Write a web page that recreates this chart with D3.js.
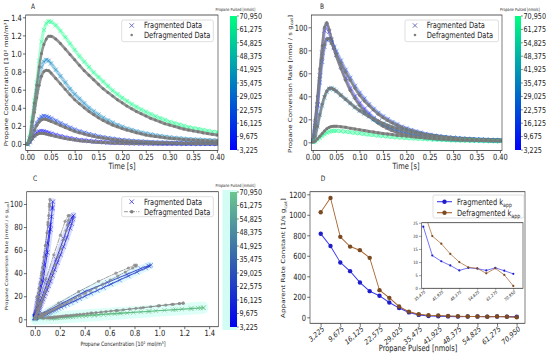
<!DOCTYPE html>
<html>
<head>
<meta charset="utf-8">
<script src="https://cdn.jsdelivr.net/npm/d3@7"></script>
<style>
html, body { margin: 0; padding: 0; background: #fff; }
svg { display: block; }
</style>
</head>
<body>
<div id="chart"></div>
<script>
// ---- data ----
const time = [0, 0.005, 0.01, 0.015, 0.02, 0.025, 0.03, 0.035, 0.04, 0.045, 0.05,
    0.06, 0.07, 0.08, 0.09, 0.10, 0.11, 0.12, 0.13, 0.14, 0.15, 0.16, 0.17, 0.18, 0.19, 0.20,
    0.21, 0.22, 0.23, 0.24, 0.25, 0.26, 0.27, 0.28, 0.29, 0.30, 0.31, 0.32, 0.33, 0.34, 0.35,
    0.36, 0.37, 0.38, 0.39, 0.40];

const pulsed = [3225, 6450, 9675, 12900, 16125, 19350, 22575, 25800, 29025, 32250, 35475,
    38700, 41925, 45150, 48375, 51600, 54825, 58050, 61275, 64500, 70950];
const pulseLabels = [3225, 9675, 16125, 22575, 29025, 35475, 41925, 48375, 54825, 61275, 70950];
const insetLabels = [35475, 41925, 48375, 54825, 61275, 70950];

// pulses shown in panels A-C (index into pulsed)
const seriesIdx = [0, 4, 10, 20];

// propane concentration [10^2 mol/m^3]
const concFrag1 = [0, .021, .064, .10, .124, .139, .143, .139, .132, .123, .114, .10, .086, .073, .063, .053, .044, .039, .033, .028, .024, .02, .017, .014, .0126, .011, .0094, .0082, .0072, .0063, .0056, .0049, .0043, .0039, .0034, .0031, .0029, .0026, .0024, .0023, .0021, .002, .0019, .0017, .0017, .0016];
const concFrag2 = [0, .031, .099, .17, .23, .273, .30, .31, .304, .295, .282, .257, .229, .205, .18, .158, .14, .124, .109, .096, .084, .074, .065, .057, .05, .043, .039, .034, .03, .027, .024, .021, .019, .016, .015, .013, .011, .01, .0093, .0084, .0078, .0071, .0065, .0059, .0056, .0053];
const concFrag3 = [0, .06, .22, .40, .58, .74, .85, .91, .93, .92, .89, .82, .75, .68, .61, .55, .50, .45, .40, .36, .325, .29, .26, .235, .21, .19, .17, .155, .14, .125, .115, .105, .095, .087, .08, .073, .067, .062, .057, .053, .05, .047, .044, .042, .04, .038];
const concFrag4 = [0, .08, .28, .48, .68, .92, 1.13, 1.26, 1.33, 1.355, 1.35, 1.31, 1.25, 1.18, 1.11, 1.04, .97, .91, .85, .79, .74, .69, .64, .59, .55, .51, .475, .44, .41, .38, .355, .33, .305, .285, .265, .245, .23, .215, .20, .185, .175, .165, .155, .145, .135, .13];

const concDefrag1 = [0, .018, .054, .084, .104, .116, .12, .116, .11, .103, .096, .084, .072, .061, .053, .044, .037, .032, .028, .023, .02, .017, .014, .012, .0106, .0091, .0079, .0068, .006, .0053, .0047, .0041, .0036, .0032, .0029, .0026, .0024, .0022, .002, .0019, .0018, .0017, .0016, .0014, .0014, .0013];
const concDefrag2 = [0, .028, .088, .151, .204, .242, .267, .275, .27, .261, .25, .228, .204, .182, .16, .14, .124, .11, .096, .085, .074, .066, .058, .051, .044, .039, .034, .03, .027, .024, .021, .018, .017, .015, .013, .012, .01, .009, .0083, .0074, .0069, .0063, .0058, .0052, .005, .0047];
const concDefrag3 = [0, .05, .19, .35, .51, .65, .75, .80, .815, .81, .785, .725, .665, .605, .545, .49, .445, .40, .36, .325, .29, .26, .235, .21, .19, .17, .155, .14, .125, .113, .10, .092, .084, .077, .07, .064, .059, .054, .05, .047, .044, .041, .038, .036, .034, .032];
const concDefrag4 = [0, .07, .25, .45, .65, .85, 1.0, 1.10, 1.16, 1.19, 1.19, 1.16, 1.11, 1.05, .99, .93, .87, .81, .76, .71, .66, .61, .57, .53, .49, .455, .42, .39, .36, .335, .31, .285, .265, .245, .225, .21, .195, .18, .165, .155, .145, .135, .125, .115, .108, .10];

// propane conversion rate [nmol / s g_cat]
const rateFrag1 = [2, 17, 33, 58, 78, 97, 102, 96, 89, 82, 76, 66, 56, 47, 40, 34, 29, 25, 21, 18, 15.5, 13, 11, 9.5, 8.2, 7.1, 6.2, 5.4, 4.8, 4.2, 3.7, 3.3, 3, 2.7, 2.5, 2.3, 2.1, 2, 1.9, 1.8, 1.7, 1.6, 1.5, 1.4, 1.4, 1.3];
const rateFrag2 = [1, 12, 32, 52, 70, 83, 89, 90, 87, 83, 79, 71, 63, 56, 49, 43, 38, 33, 29, 25.5, 22.5, 20, 17.5, 15.5, 13.5, 12, 10.6, 9.4, 8.3, 7.3, 6.5, 5.8, 5.2, 4.6, 4.1, 3.7, 3.4, 3.1, 2.8, 2.6, 2.4, 2.2, 2, 1.9, 1.8, 1.7];
const rateFrag3 = [0.5, 5, 14, 24, 32, 39, 44, 46.5, 47, 46, 44.5, 41, 37.5, 34, 30.5, 27.5, 25, 22.5, 20, 18, 16.2, 14.5, 13, 11.7, 10.5, 9.5, 8.5, 7.7, 7, 6.3, 5.7, 5.2, 4.7, 4.3, 4, 3.7, 3.4, 3.1, 2.9, 2.7, 2.5, 2.35, 2.2, 2.1, 2, 1.9];
const rateFrag4 = [0.2, 0.8, 2.5, 4, 5.5, 7, 8.4, 9.3, 9.8, 10, 10, 9.7, 9.3, 8.8, 8.3, 7.8, 7.3, 6.8, 6.3, 5.9, 5.5, 5.1, 4.7, 4.4, 4.1, 3.8, 3.5, 3.25, 3, 2.8, 2.6, 2.4, 2.25, 2.1, 1.95, 1.8, 1.7, 1.6, 1.5, 1.4, 1.3, 1.22, 1.15, 1.08, 1.02, 0.96];

const rateDefrag1 = [2, 20, 40, 64, 84, 100, 104, 98, 90, 82, 75, 64, 54, 45, 38, 32, 27, 23, 19.5, 16.5, 14, 12, 10.2, 8.7, 7.5, 6.5, 5.7, 5, 4.4, 3.9, 3.5, 3.1, 2.8, 2.5, 2.3, 2.1, 2, 1.9, 1.8, 1.7, 1.6, 1.5, 1.4, 1.4, 1.3, 1.3];
const rateDefrag2 = [1, 14, 35, 56, 73, 85, 90, 90, 86, 82, 77, 69, 61, 54, 47, 41, 36, 32, 28, 24.5, 21.5, 19, 16.8, 14.8, 13, 11.5, 10.2, 9, 8, 7.1, 6.3, 5.6, 5, 4.5, 4, 3.6, 3.3, 3, 2.8, 2.6, 2.4, 2.2, 2.1, 1.9, 1.8, 1.7];
const rateDefrag3 = [0.5, 5, 14, 24, 33, 40, 44.5, 47, 47, 46, 44.5, 41, 37.5, 34, 30.5, 27.5, 25, 22.5, 20.5, 18.5, 16.5, 14.8, 13.3, 12, 10.8, 9.7, 8.8, 8, 7.2, 6.5, 5.9, 5.4, 4.9, 4.5, 4.1, 3.7, 3.4, 3.1, 2.9, 2.7, 2.5, 2.3, 2.2, 2.1, 2, 1.9];
const rateDefrag4 = [0.2, 1, 3, 5.3, 7.6, 9.8, 11.8, 13, 13.7, 14, 14, 13.6, 13, 12.3, 11.6, 10.9, 10.2, 9.5, 8.9, 8.3, 7.7, 7.2, 6.7, 6.2, 5.8, 5.4, 5, 4.6, 4.3, 4, 3.7, 3.4, 3.1, 2.9, 2.7, 2.5, 2.3, 2.1, 2, 1.85, 1.7, 1.6, 1.5, 1.4, 1.3, 1.2];

// apparent rate constant [1/s g_cat]
const kFrag = [815, 695, 535, 450, 340, 255, 210, 145, 90, 48, 23.5, 12.5, 10.3, 8.7, 6.8, 7.8, 7.5, 6.8, 7.8, 6.7, 5.5];
const kDefrag = [1025, 1165, 785, 690, 655, 580, 265, 190, 105, 55, 30, 19.9, 17, 13.1, 10, 8, 7.6, 5.7, 7.6, 5.1, 0.9];

const concFrag = [concFrag1, concFrag2, concFrag3, concFrag4];
const concDefrag = [concDefrag1, concDefrag2, concDefrag3, concDefrag4];
const rateFrag = [rateFrag1, rateFrag2, rateFrag3, rateFrag4];
const rateDefrag = [rateDefrag1, rateDefrag2, rateDefrag3, rateDefrag4];

// ---- setup ----
// the picture is horizontally squeezed, so draw on a wider canvas and squash it
const K = 700 / 550;
const px = v => v * K;
const FONT = '"DejaVu Sans", sans-serif';
const INK = '#222';
const GRAY = '#808080';
const fmtC = d3.format(',');

const winter = d3.interpolateRgb('#0000ff', '#00ff80');
const fragColor = seriesIdx.map(i => winter(i / 20));
const cColor = ['#1414e6', '#2626d6', '#3246c8', '#5ab87a'];
const cHalo = ['#aab4ff', '#aab4ff', '#b4f0ff', '#b4fff0'];

const svg = d3.select('#chart').append('svg')
    .attr('width', 550)
    .attr('height', 360)
    .attr('viewBox', '0 0 700 360')
    .attr('preserveAspectRatio', 'none')
    .style('font-family', FONT);

const defs = svg.append('defs');

function grad(id, stops) {
    const lg = defs.append('linearGradient').attr('id', id)
        .attr('x1', '0%').attr('y1', '100%').attr('x2', '0%').attr('y2', '0%');
    stops.forEach(s => lg.append('stop').attr('offset', s[0]).attr('stop-color', s[1]));
}
grad('winterGrad', [['0%', winter(0)], ['50%', winter(0.5)], ['100%', winter(1)]]);
grad('cGrad', [['0%', '#0000f0'], ['50%', '#3563ad'], ['100%', '#6cc690']]);

function clip(id, l, r, t, b) {
    defs.append('clipPath').attr('id', id).append('rect')
        .attr('x', px(l)).attr('y', t).attr('width', px(r - l)).attr('height', b - t);
    return `url(#${id})`;
}

function text(g, x, y, str, size, anchor = 'start') {
    const t = g.append('text').attr('x', px(x)).attr('y', y)
        .attr('font-size', size).attr('fill', INK).attr('text-anchor', anchor);
    if (str) t.text(str);
    return t;
}

// text made of plain parts and {sub: ...} parts
function richParts(t, parts, size) {
    let back = 0;
    parts.forEach(p => {
        if (typeof p === 'string') {
            t.append('tspan').attr('font-size', size).attr('dy', back).text(p);
            back = 0;
        } else {
            t.append('tspan').attr('font-size', size * 0.7).attr('dy', size * 0.3).text(p.sub);
            back = -size * 0.3;
        }
    });
}

// rotated axis title
function yLabel(g, x, y, parts, size) {
    const t = g.append('text')
        .attr('transform', `translate(${px(x)},${y}) rotate(-90)`)
        .attr('text-anchor', 'middle').attr('dy', '0.35em')
        .attr('font-size', size).attr('fill', INK);
    richParts(t, parts, size);
    return t;
}

function frame(g, l, r, t, b) {
    g.append('rect').attr('x', px(l)).attr('y', t).attr('width', px(r - l)).attr('height', b - t)
        .attr('fill', 'none').attr('stroke', '#333').attr('stroke-width', 0.8);
}

function axes(g, o) {
    const ax = g.append('g').attr('transform', `translate(0,${o.b})`)
        .call(d3.axisBottom(o.xs).tickValues(o.xt).tickFormat(o.xf).tickSize(2.5).tickPadding(1));
    const ay = g.append('g').attr('transform', `translate(${px(o.l)},0)`)
        .call(d3.axisLeft(o.ys).tickValues(o.yt).tickFormat(o.yf).tickSize(3.5).tickPadding(1.5));
    [ax, ay].forEach(a => {
        a.attr('font-family', null).attr('font-size', null);
        a.select('.domain').remove();
        a.selectAll('line').attr('stroke', '#333').attr('stroke-width', 0.8);
        a.selectAll('text').attr('font-size', o.fs || 8.5).attr('fill', INK);
    });
    frame(g, o.l, o.r, o.t, o.b);
    return ax;
}

function colorbar(g, l, r, t, b, fill, titleY) {
    g.append('rect').attr('x', px(l)).attr('y', t).attr('width', px(r - l)).attr('height', b - t)
        .attr('fill', fill);
    const cs = d3.scalePoint().domain(pulseLabels).range([b, t]);
    pulseLabels.forEach(v => {
        g.append('line').attr('x1', px(r)).attr('x2', px(r + 1.8))
            .attr('y1', cs(v)).attr('y2', cs(v)).attr('stroke', '#333').attr('stroke-width', 0.7);
        text(g, r + 2.5, cs(v), fmtC(v), 8.2).attr('dy', '0.35em');
    });
    text(g, (l + r) / 2 + 2, titleY, 'Propane Pulsed [nmols]', 4.3, 'middle');
}

const crossPath = h => `M${-h * K},${-h}L${h * K},${h}M${-h * K},${h}L${h * K},${-h}`;

function crosses(g, xs, ys, xa, ya, color, h, op) {
    g.append('g').selectAll('path').data(xa).join('path')
        .attr('d', crossPath(h))
        .attr('transform', (d, i) => `translate(${xs(d)},${ys(ya[i])})`)
        .attr('fill', 'none').attr('stroke', color).attr('stroke-width', 0.8).attr('opacity', op);
}

function dots(g, xs, ys, xa, ya, color, r, op) {
    g.append('g').selectAll('ellipse').data(xa).join('ellipse')
        .attr('cx', d => xs(d)).attr('cy', (d, i) => ys(ya[i]))
        .attr('rx', r * K).attr('ry', r)
        .attr('fill', color).attr('opacity', op);
}

function band(g, xs, ys, xa, ya, color, w, op, curve) {
    const line = d3.line().x(d => xs(d[0])).y(d => ys(d[1])).curve(curve || d3.curveMonotoneX);
    return g.append('path').datum(xa.map((d, i) => [d, ya[i]]))
        .attr('d', line).attr('fill', 'none').attr('stroke', color)
        .attr('stroke-width', w).attr('opacity', op)
        .attr('stroke-linejoin', 'round').attr('stroke-linecap', 'round');
}

function legendBox(g, l, r, t, b) {
    g.append('rect').attr('x', px(l)).attr('y', t).attr('width', px(r - l)).attr('height', b - t)
        .attr('rx', 2).attr('fill', '#fff').attr('fill-opacity', 0.85)
        .attr('stroke', '#ccc').attr('stroke-width', 0.7);
}

// ---- panel A: concentration vs time ----
const gA = svg.append('g');
const xA = d3.scaleLinear().domain([0, 0.4]).range([px(27.3), px(217)]);
const yA = d3.scaleLinear().domain([0, 1.4]).range([144, 17.3]);
const plotA = gA.append('g').attr('clip-path', clip('clipA', 25.7, 218, 15, 150.5));
seriesIdx.forEach((p, s) => {
    band(plotA, xA, yA, time, concFrag[s], fragColor[s], 4, 0.35);
    crosses(plotA, xA, yA, time, concFrag[s], fragColor[s], 2.2, 0.65);
    band(plotA, xA, yA, time, concDefrag[s], GRAY, 3, 0.85);
    dots(plotA, xA, yA, time, concDefrag[s], '#777', 1.5, 0.9);
});
axes(gA, { xs: xA, ys: yA, l: 25.7, r: 218, t: 15, b: 150.5,
    xt: d3.range(0, 0.401, 0.05), xf: d3.format('.2f'),
    yt: d3.range(0, 1.41, 0.2), yf: d3.format('.1f') });
text(gA, 122, 169.5, 'Time [s]', 8.5, 'middle');
yLabel(gA, 7.5, 83, ['Propane Concentration [10² mol/m³]'], 7);
text(gA, 33, 9.5, 'A', 7.5, 'middle');
legendBox(gA, 121.7, 213.3, 20, 41.7);
gA.append('path').attr('d', crossPath(2.2)).attr('transform', `translate(${px(131.7)},25.5)`)
    .attr('stroke', '#5050b0').attr('stroke-width', 0.9).attr('fill', 'none');
dots(gA, v => px(v), v => v, [131.7], [35], GRAY, 1.3, 1);
text(gA, 144, 28.5, 'Fragmented Data', 8.5);
text(gA, 144, 38, 'Defragmented Data', 8.5);
colorbar(gA, 230, 237, 16, 150, 'url(#winterGrad)', 11.5);

// ---- panel B: conversion rate vs time ----
const gB = svg.append('g');
const xB = d3.scaleLinear().domain([0, 0.4]).range([px(312.8), px(500)]);
const yB = d3.scaleLinear().domain([0, 100]).range([142.3, 27.3]);
const plotB = gB.append('g').attr('clip-path', clip('clipB', 311.3, 502, 15, 150.5));
seriesIdx.forEach((p, s) => {
    band(plotB, xB, yB, time, rateFrag[s], fragColor[s], 4, 0.35);
    crosses(plotB, xB, yB, time, rateFrag[s], fragColor[s], 2.2, 0.65);
    band(plotB, xB, yB, time, rateDefrag[s], GRAY, 3, 0.85);
    dots(plotB, xB, yB, time, rateDefrag[s], '#777', 1.5, 0.9);
});
axes(gB, { xs: xB, ys: yB, l: 311.3, r: 502, t: 15, b: 150.5,
    xt: d3.range(0, 0.401, 0.05), xf: d3.format('.2f'),
    yt: d3.range(0, 101, 20), yf: d3.format('d') });
text(gB, 406, 169.5, 'Time [s]', 8.5, 'middle');
yLabel(gB, 291.5, 84, ['Propane Conversion Rate [nmol / s g', { sub: 'cat' }, ']'], 7);
text(gB, 322, 9.5, 'B', 7.5, 'middle');
legendBox(gB, 405, 498.5, 20, 41.7);
gB.append('path').attr('d', crossPath(2.2)).attr('transform', `translate(${px(415)},25.5)`)
    .attr('stroke', '#5050b0').attr('stroke-width', 0.9).attr('fill', 'none');
dots(gB, v => px(v), v => v, [415], [35], GRAY, 1.3, 1);
text(gB, 426.7, 28.5, 'Fragmented Data', 8.5);
text(gB, 426.7, 38, 'Defragmented Data', 8.5);
colorbar(gB, 515, 521, 16, 150, 'url(#winterGrad)', 11.5);

// ---- panel C: conversion rate vs concentration ----
const gC = svg.append('g');
const xC = d3.scaleLinear().domain([0, 1.4]).range([px(35), px(209.3)]);
const yC = d3.scaleLinear().domain([0, 100]).range([319.3, 204]);
const plotC = gC.append('g').attr('clip-path', clip('clipC', 26.7, 218.3, 191.7, 326.7));
seriesIdx.forEach((p, s) => {
    band(plotC, xC, yC, concFrag[s], rateFrag[s], cHalo[s], s === 3 ? 12 : 7, 0.45, d3.curveLinear);
});
seriesIdx.forEach((p, s) => {
    band(plotC, xC, yC, concFrag[s], rateFrag[s], cColor[s], 1.1, 0.9, d3.curveLinear);
    crosses(plotC, xC, yC, concFrag[s], rateFrag[s], cColor[s], 2.2, 0.75);
    band(plotC, xC, yC, concDefrag[s], rateDefrag[s], GRAY, 0.9, 0.9, d3.curveLinear)
        .attr('stroke-dasharray', '5,1.5,1,1.5');
    dots(plotC, xC, yC, concDefrag[s], rateDefrag[s], '#888', 1.6, 0.75);
});
axes(gC, { xs: xC, ys: yC, l: 26.7, r: 218.3, t: 191.7, b: 326.7,
    xt: d3.range(0, 1.41, 0.2), xf: d3.format('.1f'),
    yt: d3.range(0, 101, 20), yf: d3.format('d') });
text(gC, 123, 346, 'Propane Concentration [10² mol/m³]', 6, 'middle');
yLabel(gC, 7.5, 256, ['Propane Conversion Rate [nmol / s g', { sub: 'cat' }, ']'], 5.5);
text(gC, 35, 181, 'C', 7.5, 'middle');
legendBox(gC, 121.7, 213.3, 196.7, 216.7);
gC.append('path').attr('d', crossPath(2.2)).attr('transform', `translate(${px(131.7)},201.7)`)
    .attr('stroke', '#3030e0').attr('stroke-width', 0.9).attr('fill', 'none');
gC.append('line').attr('x1', px(124)).attr('x2', px(139.5)).attr('y1', 211.7).attr('y2', 211.7)
    .attr('stroke', GRAY).attr('stroke-width', 0.9).attr('stroke-dasharray', '5,1.5,1,1.5');
dots(gC, v => px(v), v => v, [131.7], [211.7], GRAY, 1.8, 1);
text(gC, 144, 204.7, 'Fragmented Data', 8.5);
text(gC, 144, 214.7, 'Defragmented Data', 8.5);
gC.append('rect').attr('x', px(222.5)).attr('y', 190).attr('width', px(15)).attr('height', 140)
    .attr('fill', '#d2fcf4');
colorbar(gC, 230, 237, 192, 327, 'url(#cGrad)', 187.5);

// ---- panel D: apparent rate constant ----
const gD = svg.append('g');
const xD = d3.scalePoint().domain(pulsed).range([px(320.7), px(516.7)]);
const yD = d3.scaleLinear().domain([0, 1200]).range([317.3, 194.3]);
const blueLine = '#3b3bf5', blueDot = '#1e1ec8', brownLine = '#a8642e', brownDot = '#7a4a20';

function kSeries(g, xs, ys, vals, lc, dc, r, w) {
    const pts = xs.domain().map(p => [p, vals[pulsed.indexOf(p)]]);
    g.append('path').datum(pts)
        .attr('d', d3.line().x(d => xs(d[0])).y(d => ys(d[1])))
        .attr('fill', 'none').attr('stroke', lc).attr('stroke-width', w);
    g.append('g').selectAll('ellipse').data(pts).join('ellipse')
        .attr('cx', d => xs(d[0])).attr('cy', d => ys(d[1]))
        .attr('rx', r * K).attr('ry', r).attr('fill', dc);
}
kSeries(gD, xD, yD, kFrag, blueLine, blueDot, 2.2, 1.1);
kSeries(gD, xD, yD, kDefrag, brownLine, brownDot, 2.2, 1.1);

const axD = axes(gD, { xs: xD, ys: yD, l: 310, r: 525, t: 191.7, b: 323.3,
    xt: pulseLabels, xf: fmtC,
    yt: d3.range(0, 1201, 200), yf: d3.format('d') });
axD.selectAll('text')
    .attr('font-size', 7.6)
    .attr('x', 0).attr('y', 0).attr('dy', '0.35em')
    .attr('text-anchor', 'end')
    .attr('transform', 'translate(3,4.5) rotate(-35)');
text(gD, 418, 351.5, 'Propane Pulsed [nmols]', 8.5, 'middle');
yLabel(gD, 285, 258, ['Apparent Rate Constant [1/s g', { sub: 'cat' }, ']'], 7.2);
text(gD, 323, 181, 'D', 7.5, 'middle');

legendBox(gD, 433, 524, 195, 218);
[[blueLine, blueDot, 201.7, 'Fragmented k'], [brownLine, brownDot, 212.7, 'Defragmented k']].forEach(e => {
    gD.append('line').attr('x1', px(437)).attr('x2', px(452)).attr('y1', e[2]).attr('y2', e[2])
        .attr('stroke', e[0]).attr('stroke-width', 1.1);
    dots(gD, v => px(v), v => v, [444.5], [e[2]], e[1], 2.2, 1);
    const t = text(gD, 457, e[2] + 3, null, 8.5);
    richParts(t, [e[3], { sub: 'app' }], 8.5);
});

// inset
const gI = gD.append('g');
gI.append('rect').attr('x', px(421.7)).attr('y', 222.7).attr('width', px(101.3)).attr('height', 65.6)
    .attr('fill', '#fff');
const xI = d3.scalePoint().domain(pulsed.slice(10)).range([px(423.3), px(513.3)]);
const yI = d3.scaleLinear().domain([0, 25]).range([288.3, 222.7]);
const plotI = gI.append('g').attr('clip-path', clip('clipI', 421.7, 523, 222.7, 288.3));
kSeries(plotI, xI, yI, kFrag, blueLine, blueDot, 1.1, 0.8);
kSeries(plotI, xI, yI, kDefrag, brownLine, brownDot, 1.1, 0.8);
const axI = axes(gI, { xs: xI, ys: yI, l: 421.7, r: 523, t: 222.7, b: 288.3,
    xt: insetLabels, xf: fmtC, yt: d3.range(0, 26, 5), yf: d3.format('d'), fs: 4.5 });
gI.selectAll('.tick line').attr('stroke-width', 0.5);
axI.selectAll('.tick line').attr('y2', 1.5);
axI.selectAll('text')
    .attr('x', 0).attr('y', 0).attr('dy', '0.35em')
    .attr('text-anchor', 'end')
    .attr('transform', 'translate(1.5,3) rotate(-35)');
</script>
</body>
</html>
